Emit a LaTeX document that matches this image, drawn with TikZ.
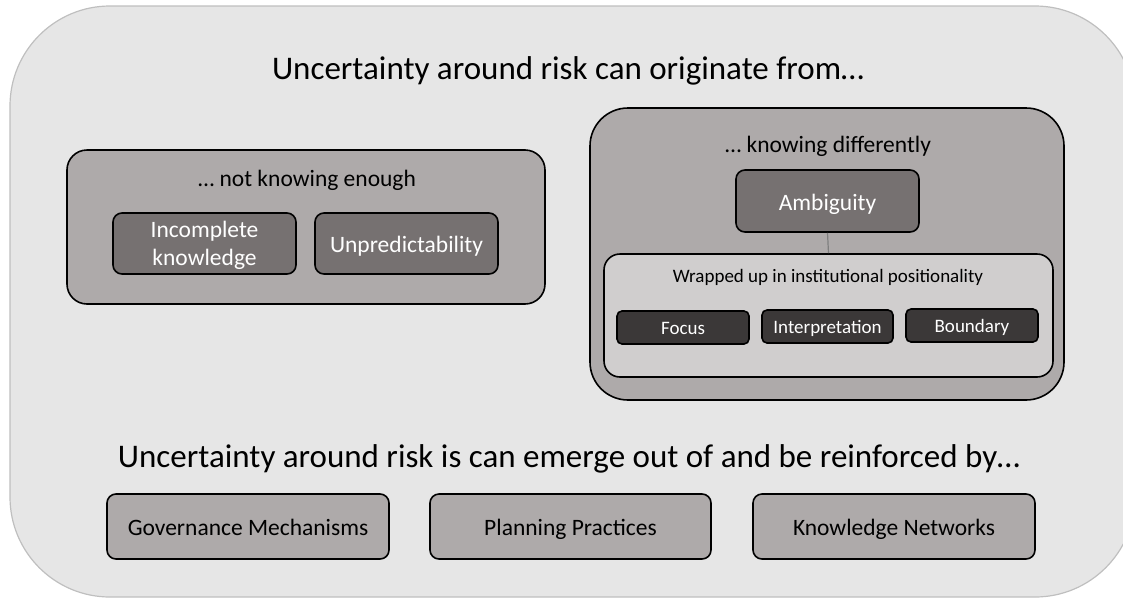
\documentclass[tikz,border=0pt]{standalone}
\usepackage{fontspec}
\setmainfont{Carlito}
\definecolor{bgfill}{HTML}{E6E6E6}
\definecolor{bgline}{HTML}{BFBFBF}
\definecolor{midgray}{HTML}{AEAAAA}
\definecolor{darkgray}{HTML}{767171}
\definecolor{lightgray}{HTML}{D0CECE}
\definecolor{darkest}{HTML}{3B3838}
\definecolor{linkgray}{HTML}{7F7F7F}
\begin{document}
\begin{tikzpicture}[x=1pt,y=-1pt,
  box/.style={draw=black, line width=1.6pt, inner sep=0pt, align=center},
  fixsmall/.style={text height=14pt, text depth=1pt},
  fixmid/.style={text height=19pt, text depth=1pt},
  fixbig/.style={text height=24.5pt, text depth=5pt},
  groupbox/.style={box, fill=midgray, rounded corners=20pt},
  darkbox/.style={box, fill=darkgray, text=white, rounded corners=9pt, minimum width=183, minimum height=61, font=\fontsize{23.5}{28}\selectfont},
  smallbox/.style={box, fixsmall, fill=darkest, text=white, rounded corners=5pt, minimum width=132, minimum height=33, font=\fontsize{19}{22}\selectfont},
  bottombox/.style={box, fixmid, fill=midgray, rounded corners=9pt, minimum width=282, minimum height=65, font=\fontsize{23.5}{26}\selectfont},
  label/.style={inner sep=0pt, align=center}]
\useasboundingbox (0,0) rectangle (1123,600);
\draw[fill=bgfill, draw=bgline, line width=1.2pt, rounded corners=100pt] (10,6) rectangle (1135,597);
\node[label, fixbig, font=\fontsize{33}{36}\selectfont] (title) at (568,70) {Uncertainty around risk can originate from…};
% left group
\node[groupbox, minimum width=478, minimum height=154] (left) at (306,227) {};
\node[label, fixmid, font=\fontsize{23.5}{26}\selectfont] (lefttitle) at (307,177) {… not knowing enough};
\node[darkbox, text depth=-1pt] (incomplete) at (204.5,243.5) {Incomplete\\knowledge};
\node[darkbox, fixmid] (unpred) at (406.5,243.5) {Unpredictability};
% right group
\node[groupbox, rounded corners=38pt, minimum width=474, minimum height=292] (right) at (827,254) {};
\node[label, fixmid, font=\fontsize{23.5}{26}\selectfont] (righttitle) at (828,143) {… knowing differently};
\node[darkbox, fixmid, minimum height=62] (amb) at (827.5,201) {Ambiguity};
\node[box, fill=lightgray, rounded corners=16pt, minimum width=449, minimum height=123] (inst) at (828.5,315.5) {};
\draw[linkgray, line width=1.2pt] (amb.south) -- (inst.north);
\node[label, fixsmall, font=\fontsize{19}{22}\selectfont] (insttitle) at (828,276) {Wrapped up in institutional positionality};
\node[smallbox] (focus) at (683,327.5) {Focus};
\node[smallbox, minimum width=131] (interp) at (827.5,326.5) {Interpretation};
\node[smallbox] (boundary) at (972,325.5) {Boundary};
% bottom
\node[label, fixbig, font=\fontsize{33}{36}\selectfont] (bottomtitle) at (569,458) {Uncertainty around risk is can emerge out of and be reinforced by…};
\node[bottombox] (gov) at (248,526.5) {Governance Mechanisms};
\node[bottombox, minimum width=281] (plan) at (570.5,526.5) {Planning Practices};
\node[bottombox] (know) at (894,526.5) {Knowledge Networks};
\end{tikzpicture}
\end{document}
